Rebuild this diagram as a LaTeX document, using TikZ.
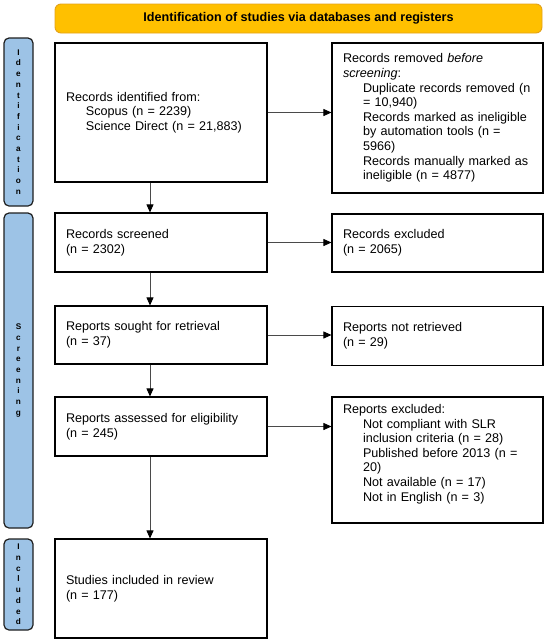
\documentclass[tikz,border=0pt]{standalone}
\usepackage{fontspec}
\setmainfont{Liberation Sans}
\usetikzlibrary{arrows.meta,calc}
\definecolor{bannerfill}{HTML}{FFC000}
\definecolor{bannerdraw}{HTML}{E3A21A}
\definecolor{barfill}{HTML}{9DC3E6}
\definecolor{bardraw}{HTML}{1F1F1F}
\definecolor{arrgray}{HTML}{4A4A4A}
\begin{document}
\begin{tikzpicture}[x=1pt,y=-1pt,
  boxbase/.style={draw=black,line width=1.1pt,rectangle,align=left,inner xsep=11pt,inner ysep=0pt,
    font=\fontsize{12.6}{14.6}\selectfont},
  lbox/.style={boxbase,text width=190pt},
  rbox/.style={boxbase,text width=189pt},
  banner/.style={draw=bannerdraw,fill=bannerfill,line width=0.9pt,rounded corners=6pt,
    minimum width=487pt,minimum height=29pt,font=\fontsize{12.6}{14.6}\selectfont\bfseries},
  sidebar/.style={draw=bardraw,fill=barfill,line width=1.2pt,rounded corners=5pt,minimum width=29pt},
  sidetext/.style={align=center,font=\fontsize{8.2}{10.7}\selectfont\bfseries,inner sep=0pt},
  arr/.style={draw=arrgray,line width=0.8pt,-{Triangle[length=8pt,width=7pt,color=black]}}
]
\useasboundingbox (0,0) rectangle (550,643);

% banner
\node[banner] (banner) at (298.5,18.5) {Identification of studies via databases and registers};

% side bars
\node[sidebar,minimum height=168pt] (barid) at (18.5,122) {};
\node[sidetext] (baridtxt) at (barid.center) {I\\d\\e\\n\\t\\i\\f\\i\\c\\a\\t\\i\\o\\n};
\node[sidebar,minimum height=315pt] (barsc) at (18.5,370.5) {};
\node[sidetext] (barsctxt) at (barsc.center) {S\\c\\r\\e\\e\\n\\i\\n\\g};
\node[sidebar,minimum height=91pt] (barin) at (18.5,584.5) {};
\node[sidetext] (barintxt) at (barin.center) {I\\n\\c\\l\\u\\d\\e\\d};

% left column
\node[lbox,minimum height=139pt] (ident) at (161,112.5) {%
\mbox{Records identified from:}\\
\mbox{\hspace{20pt}Scopus (n = 2239)}\\
\mbox{\hspace{20pt}Science Direct (n = 21,883)}};
\node[lbox,minimum height=59pt] (screened) at (161,242.5) {\mbox{Records screened}\\\mbox{(n = 2302)}};
\node[lbox,minimum height=58pt] (sought) at (161,335) {\mbox{Reports sought for retrieval}\\\mbox{(n = 37)}};
\node[lbox,minimum height=59pt] (assessed) at (161,426.5) {\mbox{Reports assessed for eligibility}\\\mbox{(n = 245)}};
\node[lbox,minimum height=99pt] (included) at (161,588.5) {\mbox{Studies included in review}\\\mbox{(n = 177)}};

% right column
\node[rbox,minimum height=150pt] (removed) at (437.5,118) {%
\mbox{Records removed \textit{before}}\\
\mbox{\textit{screening}:}\\
\mbox{\hspace{20pt}Duplicate records removed (n}\\
\mbox{\hspace{20pt}= 10,940)}\\
\mbox{\hspace{20pt}Records marked as ineligible}\\
\mbox{\hspace{20pt}by automation tools (n =}\\
\mbox{\hspace{20pt}5966)}\\
\mbox{\hspace{20pt}Records manually marked as}\\
\mbox{\hspace{20pt}ineligible (n = 4877)}};
\node[rbox,minimum height=58pt] (excluded) at (437.5,243) {\mbox{Records excluded}\\\mbox{(n = 2065)}};
\node[rbox,minimum height=59pt] (notret) at (437.5,336) {\mbox{Reports not retrieved}\\\mbox{(n = 29)}};
\node[rbox,minimum height=126pt] (repexcl) at (437.5,460) {%
\mbox{Reports excluded:}\\
\mbox{\hspace{20pt}Not compliant with SLR}\\
\mbox{\hspace{20pt}inclusion criteria (n = 28)}\\
\mbox{\hspace{20pt}Published before 2013 (n =}\\
\mbox{\hspace{20pt}20)}\\
\mbox{\hspace{20pt}Not available (n = 17)}\\
\mbox{\hspace{20pt}Not in English (n = 3)}\\
\mbox{}};

% horizontal arrows
\draw[arr] (ident.east) -- (ident.east -| removed.west);
\draw[arr] (screened.east) -- (screened.east -| excluded.west);
\draw[arr] (sought.east) -- (sought.east -| notret.west);
\draw[arr] (assessed.east) -- (assessed.east -| repexcl.west);

% vertical arrows
\draw[arr] ($(ident.south)+(-11,0)$) -- ($(screened.north)+(-11,0)$);
\draw[arr] ($(screened.south)+(-11,0)$) -- ($(sought.north)+(-11,0)$);
\draw[arr] ($(sought.south)+(-11,0)$) -- ($(assessed.north)+(-11,0)$);
\draw[arr] ($(assessed.south)+(-11,0)$) -- ($(included.north)+(-11,0)$);
\end{tikzpicture}
\end{document}
